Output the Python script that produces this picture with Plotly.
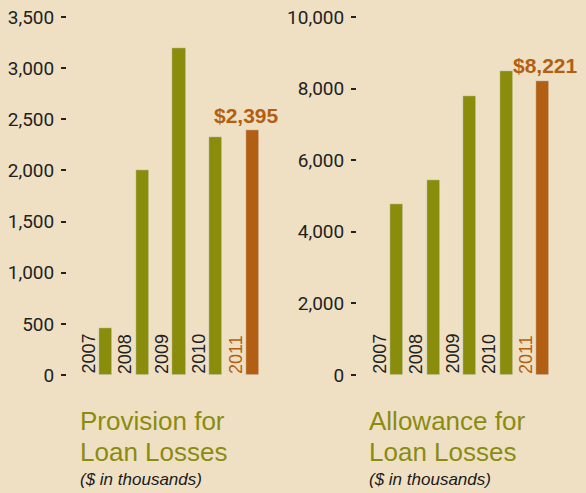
import plotly.graph_objects as go

years = ["2007", "2008", "2009", "2010", "2011"]
provision = [460, 2000, 3200, 2330, 2395]
allowance = [4770, 5440, 7800, 8500, 8221]
prov_ticks = [0, 500, 1000, 1500, 2000, 2500, 3000, 3500]
prov_ticktext = ["0", "500", "1,000", "1,500", "2,000", "2,500", "3,000", "3,500"]
allow_ticks = [0, 2000, 4000, 6000, 8000, 10000]
allow_ticktext = ["0", "2,000", "4,000", "6,000", "8,000", "10,000"]
prov_label = "$2,395"
allow_label = "$8,221"
titles = [["Provision for", "Loan Losses", "($ in thousands)"],
          ["Allowance for", "Loan Losses", "($ in thousands)"]]

W, H = 586, 493
BG = "#efe0c4"
GREEN = "#8a8c0c"
ORANGE = "#b35f13"
OLIVE = "#8a8c12"
DARK = "#222222"

colors = [GREEN] * 4 + [ORANGE]
xpos = list(range(len(years)))

fig = go.Figure()
fig.add_trace(go.Bar(x=xpos, y=provision, marker_color=colors, width=0.355,
                     xaxis="x", yaxis="y", showlegend=False, hoverinfo="skip"))
fig.add_trace(go.Bar(x=xpos, y=allowance, marker_color=colors, width=0.357,
                     xaxis="x2", yaxis="y2", showlegend=False, hoverinfo="skip"))

def px_y(p):
    return 1 - p / H

ydom = [px_y(375), px_y(17)]
tickfont = dict(family="Roboto, Liberation Sans, Arial, sans-serif", size=19, color=DARK)
common_y = dict(domain=ydom, showgrid=False, zeroline=False, showline=False,
                ticks="outside", ticklen=5, tickwidth=1.5, tickcolor=DARK,
                tickfont=tickfont, ticklabelstandoff=3, fixedrange=True, automargin=False)
common_x = dict(showgrid=False, zeroline=False, showline=False,
                showticklabels=False, ticks="", fixedrange=True, automargin=False)

fig.update_layout(
    width=W, height=H, autosize=False,
    margin=dict(l=0, r=0, t=0, b=0, pad=0),
    paper_bgcolor=BG, plot_bgcolor=BG,
    bargap=0,
    xaxis=dict(domain=[67 / W, 272 / W], range=[(67 - 105.5) / 36.75, (272 - 105.5) / 36.75], anchor="y", **common_x),
    yaxis=dict(range=[0, 3500], tickvals=prov_ticks, ticktext=prov_ticktext, anchor="x", **common_y),
    xaxis2=dict(domain=[357 / W, 562 / W], range=[(357 - 396.7) / 36.45, (562 - 396.7) / 36.45], anchor="y2", **common_x),
    yaxis2=dict(range=[0, 10000], tickvals=allow_ticks, ticktext=allow_ticktext, anchor="x2", **common_y),
)

ann = []
yearfont = "Liberation Sans Narrow, Arial Narrow, sans-serif"
for xr, yr in (("x", "y"), ("x2", "y2")):
    for i, yv in enumerate(years):
        ann.append(dict(x=i, y=0, xref=xr, yref=yr, text=yv, textangle=-90,
                        showarrow=False, xanchor="center", yanchor="bottom",
                        xshift=-17, yshift=-1,
                        font=dict(family=yearfont, size=18,
                                  color=ORANGE if i == len(years) - 1 else DARK)))

ann.append(dict(x=4, y=provision[4], xref="x", yref="y", text=prov_label, showarrow=False,
                xanchor="center", yanchor="bottom", xshift=-6, yshift=1,
                font=dict(family="Liberation Sans, Arial, sans-serif", size=21, color=ORANGE, weight="bold")))
ann.append(dict(x=4, y=allowance[4], xref="x2", yref="y2", text=allow_label, showarrow=False,
                xanchor="center", yanchor="bottom", xshift=3, yshift=2,
                font=dict(family="Liberation Sans, Arial, sans-serif", size=21, color=ORANGE, weight="bold")))

for tx, lines in zip((78, 367), titles):
    for j, (line, yc) in enumerate(zip(lines, (421, 452, 479))):
        if j < 2:
            f = dict(family=yearfont, size=26, color=OLIVE)
        else:
            f = dict(family="Liberation Sans, Arial, sans-serif", size=17, color="#1a1a1a", style="italic")
        ann.append(dict(x=tx / W, y=px_y(yc), xref="paper", yref="paper", text=line,
                        showarrow=False, xanchor="left", yanchor="middle", font=f))

fig.update_layout(annotations=ann)
fig.write_html("out.html", config={"responsive": False, "displayModeBar": False},
               default_width="586px", default_height="493px",
               post_script="document.body.style.margin='0';document.body.style.overflow='hidden';document.documentElement.style.background='%s';" % BG)
